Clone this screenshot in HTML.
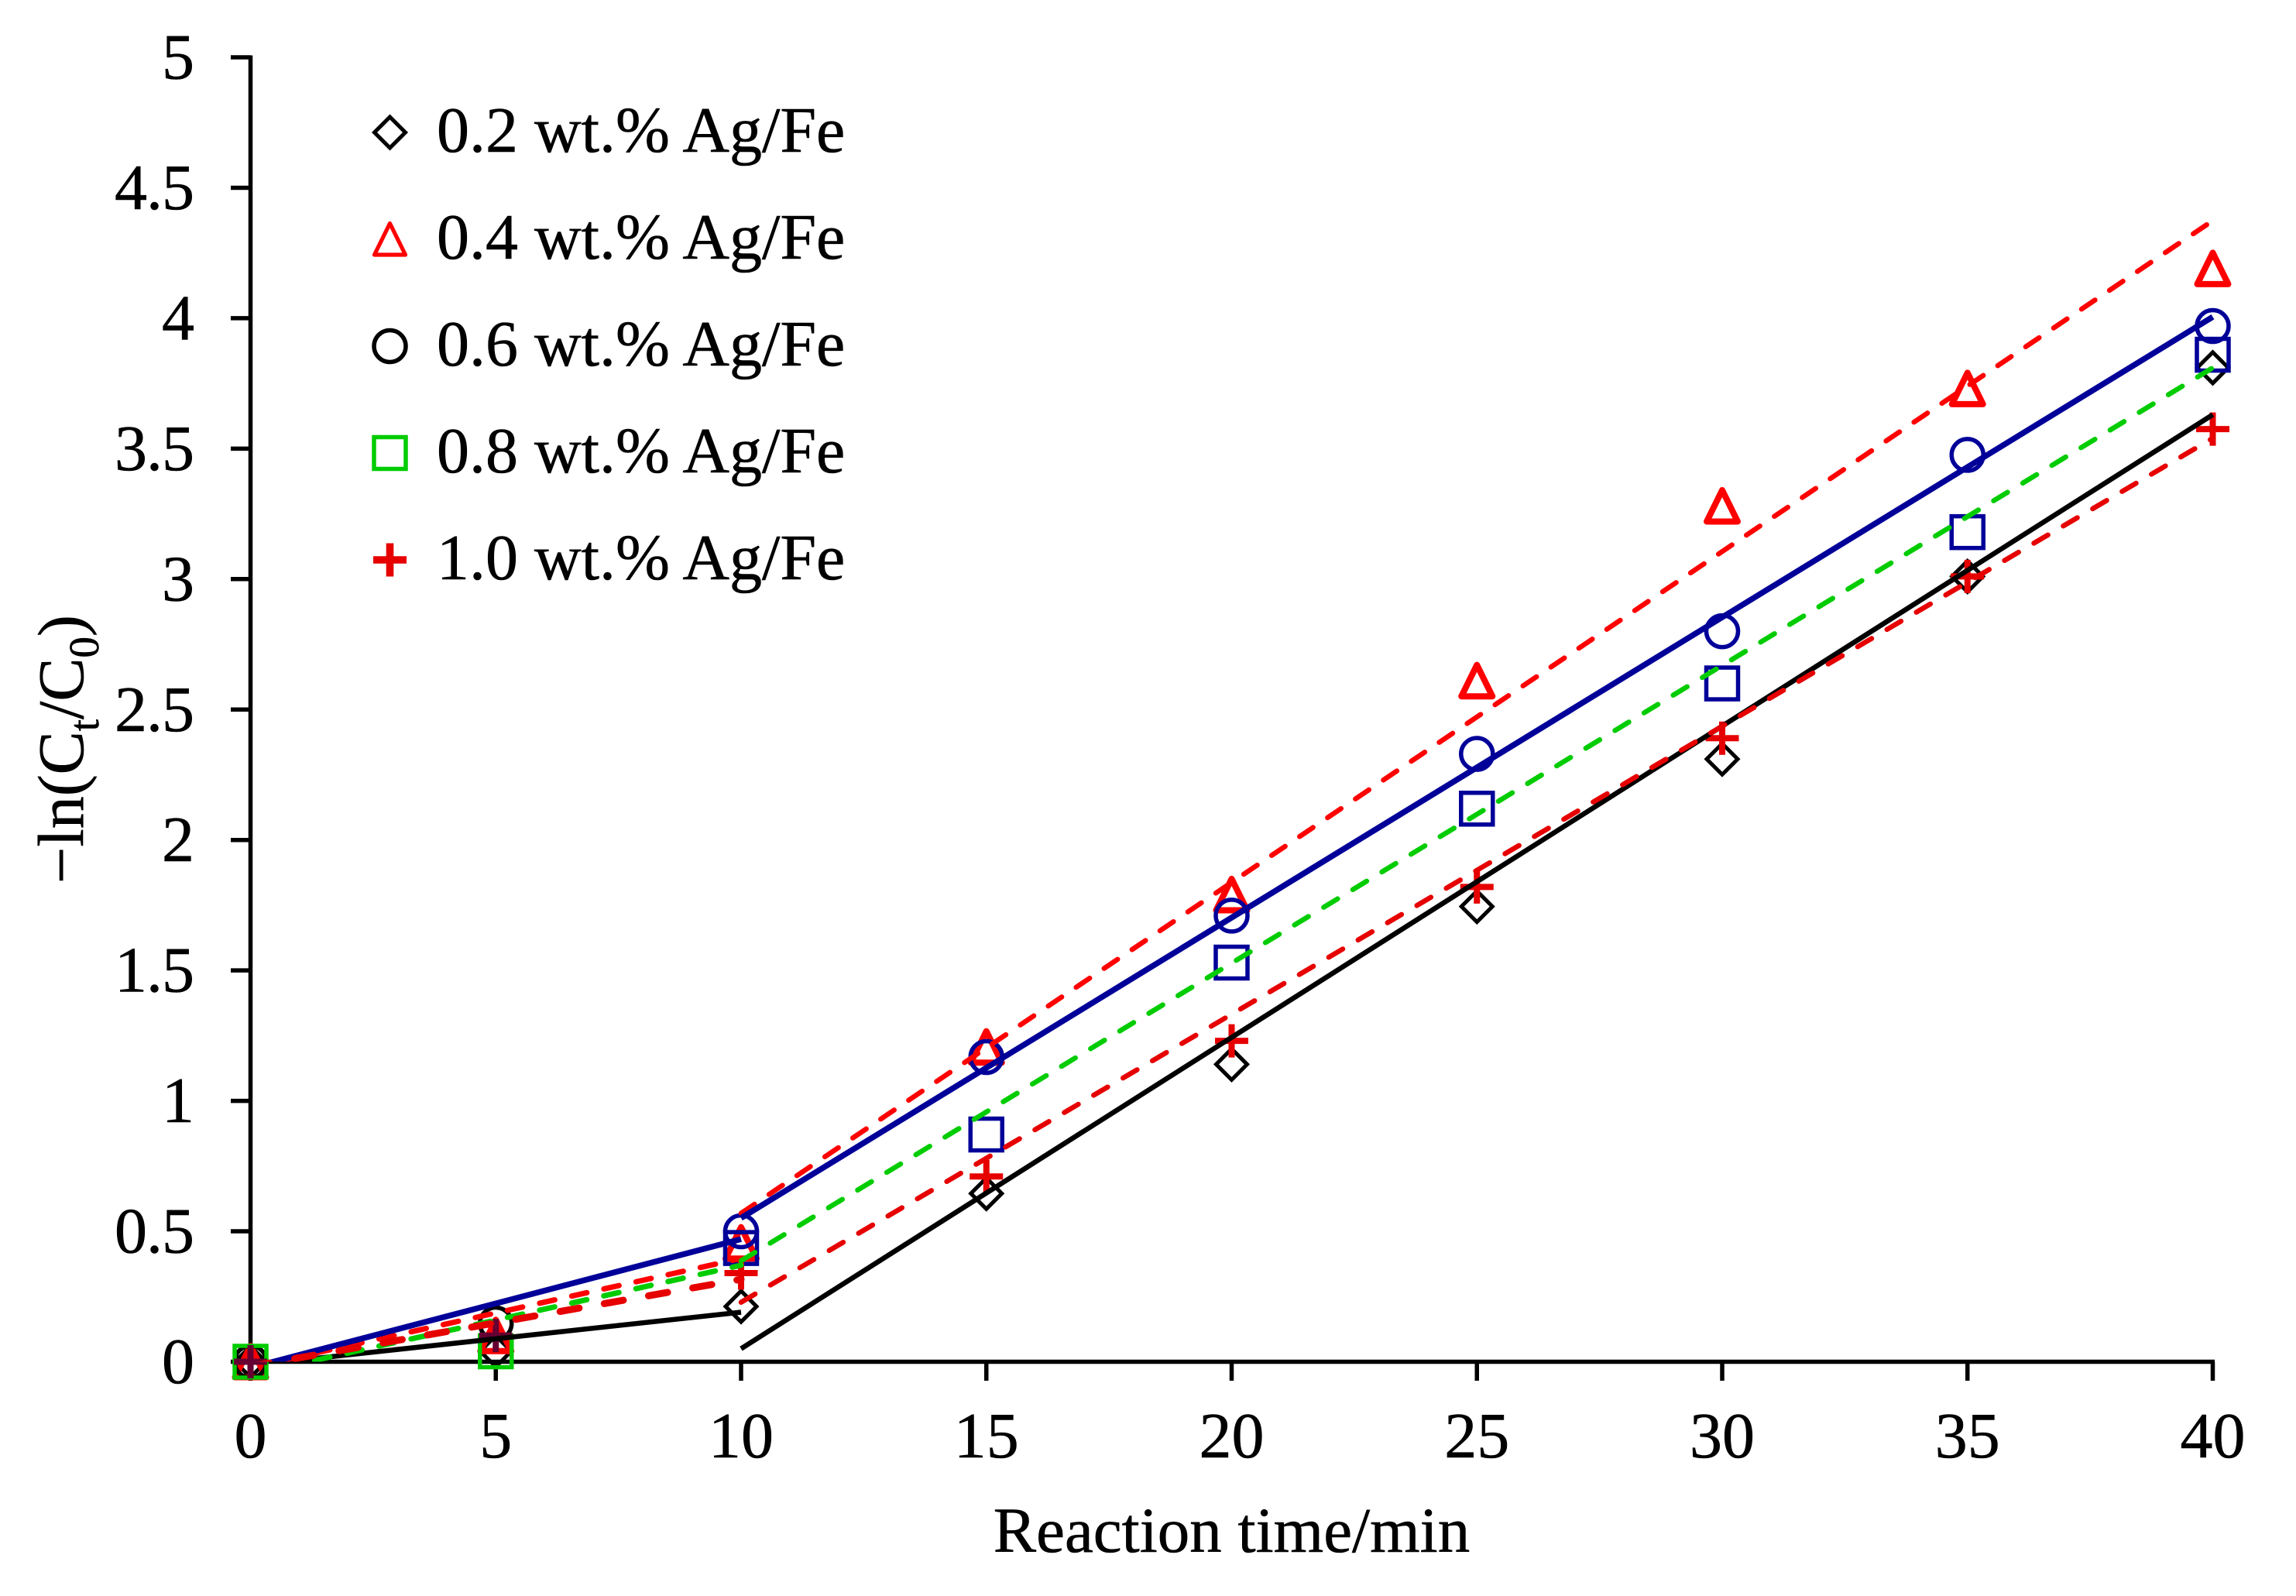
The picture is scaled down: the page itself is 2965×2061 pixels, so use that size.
<!DOCTYPE html>
<html lang="en">
<head>
<meta charset="utf-8">
<title>Reaction kinetics of Ag/Fe catalysts</title>
<style>
html,body{margin:0;padding:0;background:#fff;}
svg{display:block;}
text{font-family:"Liberation Serif",serif;fill:#000;stroke:#000;stroke-width:0.6px;}
</style>
</head>
<body>
<svg id="chart" xmlns="http://www.w3.org/2000/svg" width="2965" height="2061" viewBox="0 0 2965 2061">
  <rect x="0" y="0" width="2965" height="2061" fill="#ffffff"/>
  <defs>
    <clipPath id="plot-clip"><rect x="323" y="60" width="2560" height="1698.5"/></clipPath>
  </defs>
  <g id="axes"></g>
  <g id="markers"></g>
  <g id="fits" clip-path="url(#plot-clip)"></g>
  <g id="legend"></g>
  <text x="1590.5" y="2004" font-size="83" text-anchor="middle">Reaction time/min</text>
  <text transform="translate(107,1141) rotate(-90)" font-size="84">−ln(C<tspan font-size="55" dy="20">t</tspan><tspan dy="-20">/C</tspan><tspan font-size="55" dy="20">0</tspan><tspan dy="-20">)</tspan></text>
</svg>
<script>
const timeValues = [0, 5, 10, 15, 20, 25, 30, 35, 40];
const xTickValues = [0, 5, 10, 15, 20, 25, 30, 35, 40];
const xTickLabels = ['0', '5', '10', '15', '20', '25', '30', '35', '40'];
const yTickValues = [0, 0.5, 1, 1.5, 2, 2.5, 3, 3.5, 4, 4.5, 5];
const yTickLabels = ['0', '0.5', '1', '1.5', '2', '2.5', '3', '3.5', '4', '4.5', '5'];

const values02 = [0, 0.04, 0.212, 0.645, 1.14, 1.745, 2.31, 3.01, 3.81];
const values04 = [0, 0.1, 0.455, 1.206, 1.79, 2.61, 3.28, 3.73, 4.19];
const values06 = [0, 0.147, 0.5, 1.168, 1.71, 2.33, 2.8, 3.476, 3.97];
const values08 = [0, 0.04, 0.436, 0.871, 1.53, 2.12, 2.6, 3.18, 3.86];
const values10 = [0, 0.1, 0.34, 0.71, 1.23, 1.82, 2.39, 3.01, 3.575];

const earlyFitTimes = [0, 10];
const lateFitTimes = [10, 40];
const earlyFit02 = [-0.014, 0.19];
const lateFit02 = [0.05, 3.63];
const earlyFit04 = [-0.022, 0.396];
const lateFit04 = [0.569, 4.374];
const earlyFit06 = [-0.023, 0.47];
const lateFit06 = [0.551, 4.005];
const earlyFit08 = [-0.05, 0.37];
const lateFit08 = [0.387, 3.81];
const earlyFit10 = [-0.018, 0.316];
const lateFit10 = [0.228, 3.54];

const legendLabels = ['0.2 wt.% Ag/Fe', '0.4 wt.% Ag/Fe', '0.6 wt.% Ag/Fe', '0.8 wt.% Ag/Fe', '1.0 wt.% Ag/Fe'];

const SVG_NS = 'http://www.w3.org/2000/svg';
const BLACK = '#000000', RED = '#ff0000', BLUE = '#000099', GREEN = '#00cc00', DARK_RED = '#e60000', PURPLE = '#660033';

function xScale(v) { return 323.5 + v * (2857.5 - 323.5) / 40; }
function yScale(v) { return 1758.5 - v * 1684.5 / 5; }

function make(tag, parent) {
  const el = document.createElementNS(SVG_NS, tag);
  parent.appendChild(el);
  return el;
}

function drawLine(parent, x1, y1, x2, y2, color, width) {
  const el = make('line', parent);
  el.setAttribute('x1', x1);
  el.setAttribute('y1', y1);
  el.setAttribute('x2', x2);
  el.setAttribute('y2', y2);
  el.setAttribute('stroke', color);
  el.setAttribute('stroke-width', width);
  return el;
}

function drawText(parent, x, y, anchor, content, size) {
  const el = make('text', parent);
  el.setAttribute('x', x);
  el.setAttribute('y', y);
  el.setAttribute('font-size', size);
  el.setAttribute('text-anchor', anchor);
  el.textContent = content;
  return el;
}

function drawMarker(parent, kind, cx, cy, color, strokeScale) {
  let el;
  if (kind === 'diamond') {
    el = make('polygon', parent);
    el.setAttribute('points', [cx, cy - 20, cx + 20, cy, cx, cy + 20, cx - 20, cy].join(' '));
    el.setAttribute('stroke-width', 5 * strokeScale);
    el.setAttribute('stroke-linejoin', 'miter');
    el.setAttribute('fill', 'none');
  } else if (kind === 'triangle') {
    el = make('polygon', parent);
    el.setAttribute('points', [cx, cy - 20.5, cx + 20, cy + 20, cx - 20, cy + 20].join(' '));
    el.setAttribute('stroke-width', 8 * strokeScale);
    el.setAttribute('stroke-linejoin', 'round');
    el.setAttribute('fill', 'none');
  } else if (kind === 'circle') {
    el = make('circle', parent);
    el.setAttribute('cx', cx);
    el.setAttribute('cy', cy);
    el.setAttribute('r', 20.5);
    el.setAttribute('stroke-width', 5.5 * strokeScale);
    el.setAttribute('fill', 'none');
  } else if (kind === 'square') {
    el = make('rect', parent);
    el.setAttribute('x', cx - 20.5);
    el.setAttribute('y', cy - 20.5);
    el.setAttribute('width', 41);
    el.setAttribute('height', 41);
    el.setAttribute('stroke-width', 5.5 * strokeScale);
    el.setAttribute('fill', 'none');
  } else {
    el = make('path', parent);
    el.setAttribute('d', 'M' + (cx - 21.5) + ' ' + cy + 'H' + (cx + 21.5) + 'M' + cx + ' ' + (cy - 21.5) + 'V' + (cy + 21.5));
    el.setAttribute('stroke-width', 8 * strokeScale);
    el.setAttribute('fill', 'none');
  }
  el.setAttribute('stroke', color);
  return el;
}

/* axes */
const axes = document.getElementById('axes');
const yAxisLine = drawLine(axes, 323.5, 71.5, 323.5, 1761, BLACK, 5.5);


const xAxisLine = drawLine(axes, 321, 1758.5, 2860, 1758.5, BLACK, 5.5);



xTickValues.forEach(function (v, i) {
  const tick = drawLine(axes, xScale(v), 1758.5, xScale(v), 1783, BLACK, 5.5);
  
  
  const label = drawText(axes, xScale(v), 1882, 'middle', xTickLabels[i], 84);
  
  
});

yTickValues.forEach(function (v, i) {
  const tick = drawLine(axes, 298, yScale(v), 323.5, yScale(v), BLACK, 5.5);
  
  
  const label = drawText(axes, 250, yScale(v) + 27.5, 'end', yTickLabels[i], 84);
  label.setAttribute('letter-spacing', '-1');
  
  
});

/* markers: first two points keep the legend colour, later ones use the chart colour */
const markerSeries = [
  { id: 'series-0-2', kind: 'diamond', values: values02, early: BLACK, late: BLACK },
  { id: 'series-0-4', kind: 'triangle', values: values04, early: RED, late: RED },
  { id: 'series-0-6', kind: 'circle', values: values06, early: BLACK, late: BLUE },
  { id: 'series-0-8', kind: 'square', values: values08, early: GREEN, late: BLUE },
  { id: 'series-1-0', kind: 'plus', values: values10, early: PURPLE, late: DARK_RED }
];
const markersGroup = document.getElementById('markers');
markerSeries.forEach(function (s) {
  s.values.forEach(function (v, i) {
    const color = i < 2 ? s.early : s.late;
    const m = drawMarker(markersGroup, s.kind, xScale(timeValues[i]), yScale(v), color, 1);
    
    
  });
});

/* fitted lines */
const fitSeries = [
  { id: 'fit-0-2', early: earlyFit02, late: lateFit02, color: BLACK, dashEarly: null, dashLate: null, wEarly: 6.5, wLate: 6.5 },
  { id: 'fit-0-4', early: earlyFit04, late: lateFit04, color: RED, dashEarly: '20 22.5', dashLate: '21 22.5', wEarly: 7, wLate: 6.5 },
  { id: 'fit-0-6', early: earlyFit06, late: lateFit06, color: BLUE, dashEarly: null, dashLate: null, wEarly: 7.5, wLate: 7.5 },
  { id: 'fit-0-8', early: earlyFit08, late: lateFit08, color: GREEN, dashEarly: '20 22.5', dashLate: '21 23', wEarly: 7, wLate: 6.5 },
  { id: 'fit-1-0', early: earlyFit10, late: lateFit10, color: DARK_RED, dashEarly: '25 33', dashLate: '21 23', wEarly: 9, wLate: 6.5 }
];
const fitsGroup = document.getElementById('fits');
function drawFit(times, vals, color, width, dash) {
  const el = drawLine(fitsGroup, xScale(times[0]), yScale(vals[0]), xScale(times[1]), yScale(vals[1]), color, width);
  el.setAttribute('stroke-linecap', dash ? 'round' : 'butt');
  if (dash) { el.setAttribute('stroke-dasharray', dash); }
  return el;
}
fitSeries.forEach(function (s) {
  const earlyLine = drawFit(earlyFitTimes, s.early, s.color, s.wEarly, s.dashEarly);
  
  
  const lateLine = drawFit(lateFitTimes, s.late, s.color, s.wLate, s.dashLate);
  
  
});

/* legend */
const legendKinds = ['diamond', 'triangle', 'circle', 'square', 'plus'];
const legendColors = [BLACK, RED, BLACK, GREEN, DARK_RED];
const legendStrokeScales = [1, 0.65, 1, 1, 1.2];
const legendGroup = document.getElementById('legend');
legendLabels.forEach(function (text, i) {
  const baseline = 196 + i * 138;
  const key = drawMarker(legendGroup, legendKinds[i], 503.5, baseline - 25, legendColors[i], legendStrokeScales[i]);
  
  
  const label = drawText(legendGroup, 564, baseline, 'start', text, 84);
  
  
});
</script>
</body>
</html>
